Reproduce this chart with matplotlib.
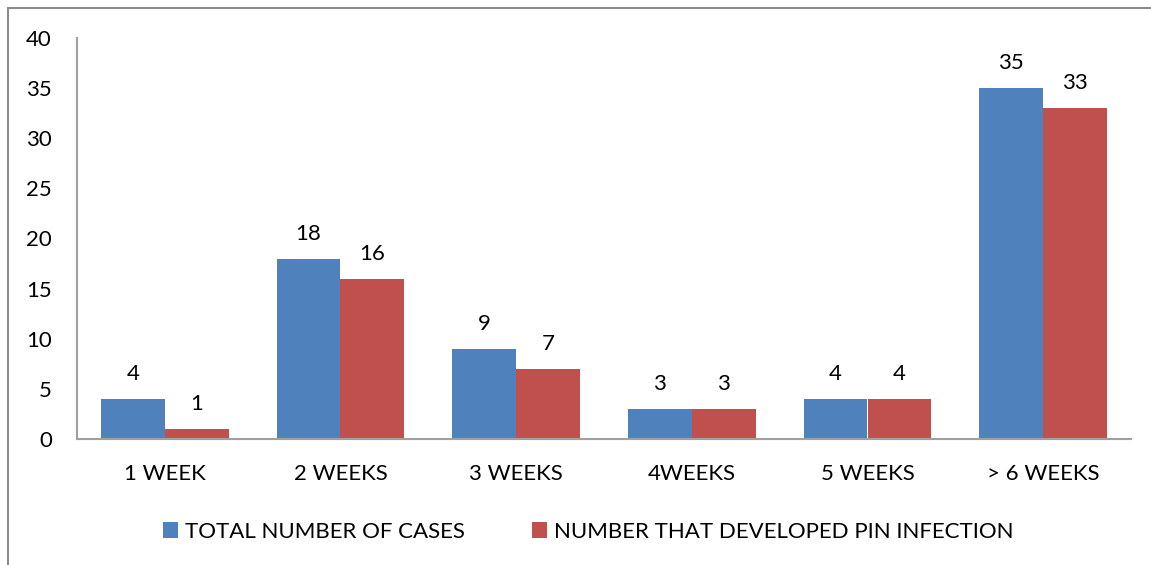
import numpy as np
import matplotlib.pyplot as plt
from matplotlib.patches import Rectangle

categories = ["1 WEEK", "2 WEEKS", "3 WEEKS", "4WEEKS", "5 WEEKS", "> 6 WEEKS"]
total_cases = [4, 18, 9, 3, 4, 35]
pin_infection = [1, 16, 7, 3, 4, 33]
series_names = ["TOTAL NUMBER OF CASES", "NUMBER THAT DEVELOPED PIN INFECTION"]

blue = "#4F81BD"
red = "#C0504D"

plt.rcParams['font.family'] = ['Lato', 'DejaVu Sans']
fs = 16

fig = plt.figure(figsize=(11.51, 5.65), dpi=100)
W, H = 1151, 565
# plot area in pixels: x 77..1131, y 38..439
ax = fig.add_axes([77 / W, 1 - 439 / H, (1131 - 77) / W, (439 - 38) / H])

x = np.arange(len(categories))
bw = 0.364
b1 = ax.bar(x - bw / 2, total_cases, bw, color=blue, label=series_names[0])
b2 = ax.bar(x + bw / 2, pin_infection, bw, color=red, label=series_names[1])

for bars, vals in ((b1, total_cases), (b2, pin_infection)):
    for rect, v in zip(bars, vals):
        ax.text(rect.get_x() + rect.get_width() / 2, v + 1.5, str(v),
                ha='center', va='bottom', fontsize=fs)

ax.set_xlim(-0.5, len(categories) - 0.5)
ax.set_ylim(0, 40)
ax.set_yticks(range(0, 41, 5))
ax.set_xticks(x)
ax.set_xticklabels(categories)
ax.tick_params(axis='both', length=0, labelsize=fs)
ax.tick_params(axis='x', pad=18)
ax.tick_params(axis='y', pad=18)
for s in ('top', 'right'):
    ax.spines[s].set_visible(False)
for s in ('left', 'bottom'):
    ax.spines[s].set_color('#A0A0A0')
    ax.spines[s].set_linewidth(1.5)

fig.legend(handles=[b1, b2], labels=series_names, loc='center',
           bbox_to_anchor=(588 / W, 1 - 532 / H), ncol=2, frameon=False,
           fontsize=fs, handlelength=0.7, handleheight=0.7,
           handletextpad=0.3, columnspacing=3.0)

# outer chart frame (cut off at right and bottom)
fig.patches.append(Rectangle((8 / W, -0.1), 1.2, 1 - 8 / H + 0.1,
                             transform=fig.transFigure, fill=False,
                             edgecolor='#8C8C8C', linewidth=1.5))

fig.savefig("out.png", dpi=100)
